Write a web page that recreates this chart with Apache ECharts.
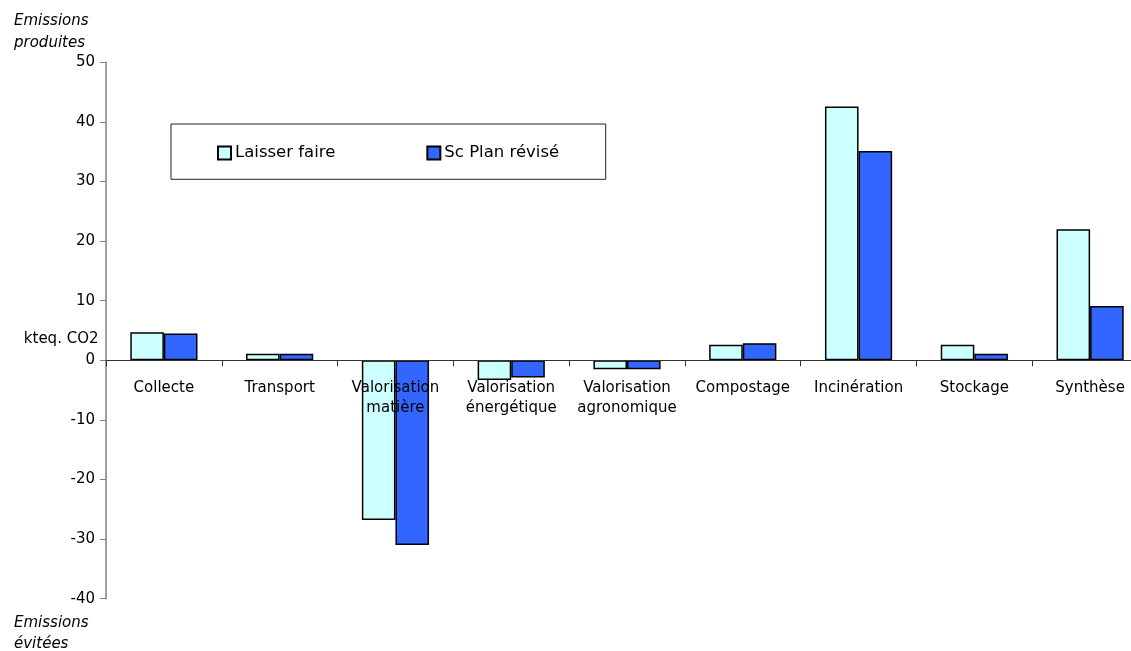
<!DOCTYPE html>
<html>
<head>
<meta charset="utf-8">
<script src="https://cdn.jsdelivr.net/npm/echarts@6/dist/echarts.min.js"></script>
<style>
  html, body { margin: 0; padding: 0; width: 1131px; height: 651px; overflow: hidden; background: #fff; }
  #chart { width: 1160px; height: 651px; }
</style>
</head>
<body>
<div id="chart"></div>
<script>
// Emissions de GES par poste (kteq. CO2)
const categories = ['Collecte', 'Transport', 'Valorisation\nmatière', 'Valorisation\nénergétique',
  'Valorisation\nagronomique', 'Compostage', 'Incinération', 'Stockage', 'Synthèse'];
const laisserFaire = [4.7, 1.1, -26.8, -3.3, -1.5, 2.6, 42.6, 2.6, 22.0];
const planRevise = [4.5, 1.1, -31.0, -2.9, -1.5, 2.85, 35.1, 1.1, 9.1];
const seriesNames = ['Laisser faire', 'Sc Plan révisé'];
const yMin = -40, yMax = 50, yStep = 10;

const FONT = 'DejaVu Sans';
const GRID_TOP = 62.3, GRID_H = 536.4;
// lift the category axis (line, ticks, labels) up to the zero line
const zeroOffset = GRID_H * (0 - yMin) / (yMax - yMin);

const chart = echarts.init(document.getElementById('chart'));

chart.setOption({
  animation: false,
  backgroundColor: '#fff',
  textStyle: { fontFamily: FONT },
  grid: { left: 106, top: GRID_TOP, width: 1042, height: GRID_H, containLabel: false },
  legend: {
    left: 217, top: 143, padding: 0,
    itemWidth: 13, itemHeight: 13, itemGap: 91,
    icon: 'rect',
    textStyle: { fontFamily: FONT, fontSize: 16.5, color: '#000', lineHeight: 20, padding: [0, 0, 0, -1] },
    data: seriesNames
  },
  xAxis: {
    type: 'category',
    data: categories,
    position: 'bottom',
    offset: -zeroOffset,
    z: 10,
    axisLine: { onZero: false, lineStyle: { color: '#333', width: 1 } },
    axisTick: { show: true, interval: 0, length: 6, lineStyle: { color: '#333' } },
    axisLabel: { interval: 0, margin: 18, fontFamily: FONT, fontSize: 15, color: '#000', lineHeight: 20 }
  },
  yAxis: {
    type: 'value',
    min: yMin, max: yMax, interval: yStep,
    splitLine: { show: false },
    axisLine: { show: true, onZero: false, lineStyle: { color: '#808080', width: 1.5 } },
    axisTick: { show: true, length: 6, lineStyle: { color: '#808080' } },
    axisLabel: { margin: 11, fontFamily: FONT, fontSize: 15, color: '#000' }
  },
  series: [
    {
      name: seriesNames[0], type: 'bar', data: laisserFaire,
      barWidth: 33.6, barGap: '0%',
      itemStyle: { color: '#CCFFFF', borderColor: '#000', borderWidth: 1.5 }
    },
    {
      name: seriesNames[1], type: 'bar', data: planRevise,
      barWidth: 33.6, barGap: '0%',
      itemStyle: { color: '#3366FF', borderColor: '#000', borderWidth: 1.5 }
    }
  ],
  graphic: [
    { type: 'rect', z: 0, shape: { x: 171, y: 124, width: 434.7, height: 55.3 },
      style: { fill: '#fff', stroke: '#222', lineWidth: 1 } },
    { type: 'text', left: 14, top: 10.6,
      style: { text: 'Emissions\nproduites', fontFamily: FONT, fontStyle: 'italic', fontSize: 15, lineHeight: 21.6, fill: '#000' } },
    { type: 'text', left: 14, top: 612,
      style: { text: 'Emissions\névitées', fontFamily: FONT, fontStyle: 'italic', fontSize: 15, lineHeight: 21.6, fill: '#000' } },
    { type: 'text', right: 1160 - 98.5, top: 332,
      style: { text: 'kteq. CO2', fontFamily: FONT, fontSize: 15, fill: '#000', align: 'right' } }
  ]
});
</script>
</body>
</html>
